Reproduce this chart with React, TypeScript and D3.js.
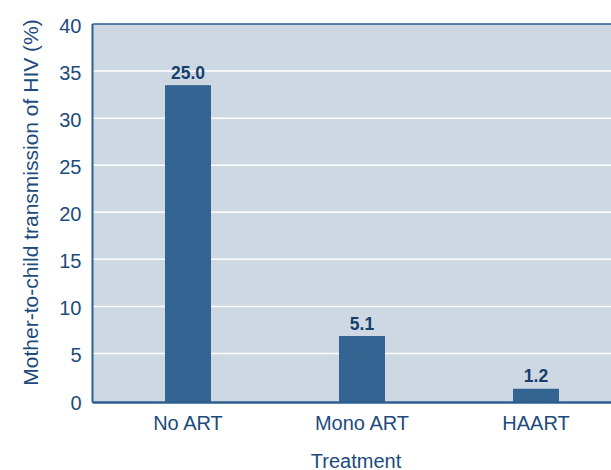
import React from "react";
import * as d3 from "d3";

const categories = ["No ART", "Mono ART", "HAART"];
const barValues = [33.5, 6.85, 1.25];
const valueLabels = ["25.0", "5.1", "1.2"];
const yTicks = [0, 5, 10, 15, 20, 25, 30, 35, 40];

export default function App() {
  const W = 611, H = 470;
  const left = 92.5, top = 24, bottom = 400.5;
  const y = d3.scaleLinear().domain([0, 40]).range([bottom, top]);
  const x = d3.scalePoint<string>().domain(categories).range([188, 536]);
  const bw = 46;
  const navy = "#1c4b7c";
  const font = "'Liberation Sans', Arial, Helvetica, sans-serif";
  return (
    <svg width={W} height={H} style={{ position: "absolute", left: 0, top: 0 }} fontFamily={font}>
      <rect x={left} y={top} width={W - left} height={bottom + 2 - top} fill="#cdd8e3" />
      {yTicks.filter(t => t > 0 && t < 40).map(t => (
        <line key={t} x1={left} x2={W} y1={y(t)} y2={y(t)} stroke="#ffffff" strokeWidth={1.5} />
      ))}
      {categories.map((c, i) => (
        <rect key={c} x={(x(c) as number) - bw / 2} y={y(barValues[i])} width={bw} height={y(0) - y(barValues[i]) + 1.5} fill="#346492" />
      ))}
      {categories.map((c, i) => (
        <text key={c} x={x(c)} y={y(barValues[i]) - 6.5} textAnchor="middle" fontSize={17.5} fontWeight="bold" fill="#163f6c">{valueLabels[i]}</text>
      ))}
      <line x1={left} x2={W} y1={top} y2={top} stroke="#2c5f8f" strokeWidth={1.5} />
      <line x1={left} x2={left} y1={top} y2={bottom + 2} stroke="#2c5f8f" strokeWidth={2} />
      <line x1={left} x2={W} y1={bottom + 2} y2={bottom + 2} stroke="#2c5f8f" strokeWidth={2.5} />
      {yTicks.map(t => (
        <text key={t} x={81.5} y={y(t) + 9} textAnchor="end" fontSize={20} fill={navy}>{t}</text>
      ))}
      {categories.map(c => (
        <text key={c} x={x(c)} y={430} textAnchor="middle" fontSize={20} fill={navy}>{c}</text>
      ))}
      <text x={356} y={468} textAnchor="middle" fontSize={20} fill={navy}>Treatment</text>
      <text transform={`translate(37.5, 202.5) rotate(-90)`} textAnchor="middle" fontSize={21} fill={navy}>Mother-to-child transmission of HIV (%)</text>
    </svg>
  );
}
